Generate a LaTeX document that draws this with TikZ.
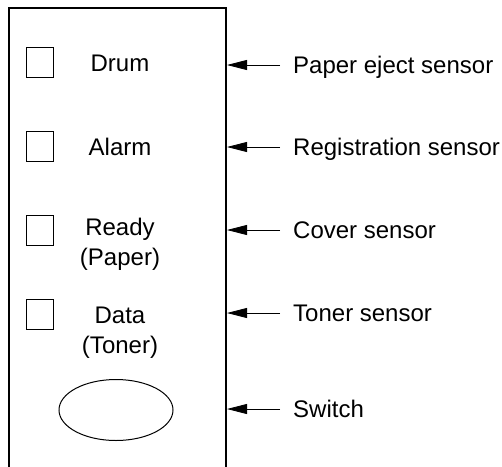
\documentclass[tikz,border=0pt]{standalone}
\usepackage{fontspec}
\setmainfont{Liberation Sans}
\usetikzlibrary{arrows.meta}
\usetikzlibrary{shapes.geometric}
\tikzset{>={Triangle[length=20pt,width=10pt]}}

\begin{document}
\begin{tikzpicture}[x=1pt,y=-1pt,
  lamp/.style={draw,line width=1pt,minimum width=27pt,minimum height=30pt,inner sep=0pt},
  lbl/.style={font=\fontsize{24}{30}\selectfont,align=center,inner sep=0pt},
  sens/.style={font=\fontsize{24}{30}\selectfont,anchor=west,inner sep=0pt,
    text height=17pt,text depth=0pt}]
  \useasboundingbox (0,0) rectangle (502,466);
  \clip (0,0) rectangle (502,466);

  % panel
  \draw[line width=1.6pt] (9,480) -- (9,8) -- (226,8) -- (226,480);

  % lamps
  \node[lamp] (lampA) at (39.5,62) {};
  \node[lamp] (lampB) at (39.5,146.5) {};
  \node[lamp] (lampC) at (39.5,230) {};
  \node[lamp] (lampD) at (39.5,314) {};

  % lamp texts
  \node[lbl,text height=17pt,text depth=0pt] (drum) at (120,63) {Drum};
  \node[lbl,text height=17pt,text depth=0pt] (alarm) at (120,146.5) {Alarm};
  \node[lbl] (ready) at (120,244) {Ready\\(Paper)};
  \node[lbl] (data) at (120,333) {Data\\(Toner)};

  % switch
  \node[draw,ellipse,line width=1pt,minimum width=114pt,minimum height=61pt] (switch) at (116,410) {};

  % sensors
  \coordinate (tipA) at (227,65);
  \coordinate (tipB) at (227,147);
  \coordinate (tipC) at (227,230);
  \coordinate (tipD) at (227,313);
  \coordinate (tipE) at (227,409);

  \node[sens] (eject) at (293,65) {Paper eject sensor};
  \node[sens] (regist) at (293,147) {Registration sensor};
  \node[sens] (cover) at (293,230) {Cover sensor};
  \node[sens] (toner) at (293,313) {Toner sensor};
  \node[sens] (sw) at (293,409) {Switch};

  \draw[->,line width=0.8pt,shorten <=13pt] (eject) -- (tipA);
  \draw[->,line width=0.8pt,shorten <=13pt] (regist) -- (tipB);
  \draw[->,line width=0.8pt,shorten <=13pt] (cover) -- (tipC);
  \draw[->,line width=0.8pt,shorten <=13pt] (toner) -- (tipD);
  \draw[->,line width=0.8pt,shorten <=13pt] (sw) -- (tipE);
\end{tikzpicture}
\end{document}
